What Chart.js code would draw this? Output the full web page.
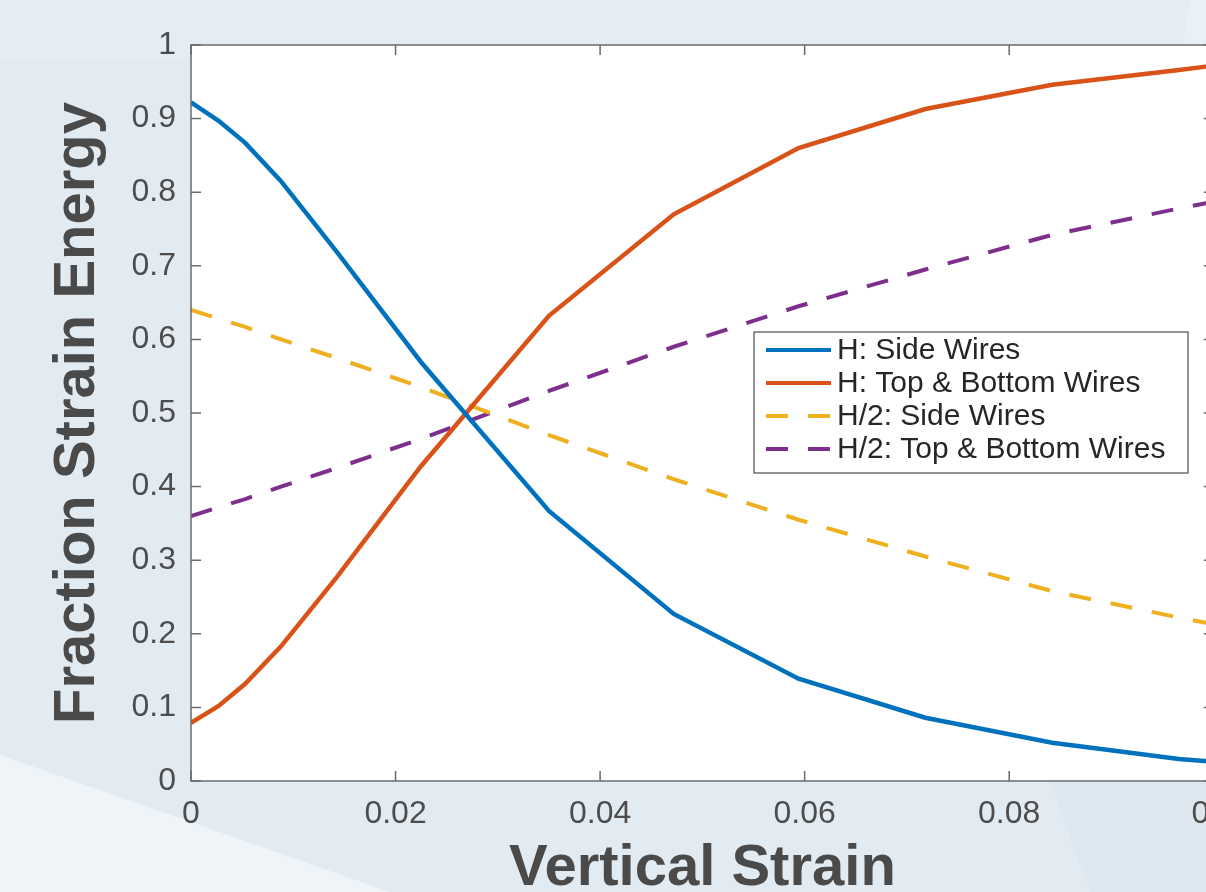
<!DOCTYPE html>
<html>
<head>
<meta charset="utf-8">
<script src="https://cdn.jsdelivr.net/npm/chart.js@4/dist/chart.umd.min.js"></script>
<style>
  html, body { margin: 0; padding: 0; width: 1206px; height: 892px; overflow: hidden; background: #e2ebf2; }
  .bg { position: absolute; left: 0; top: 0; width: 1206px; height: 892px; }
  #wrap { position: absolute; left: 0; top: 0; width: 1250px; height: 892px; }
</style>
</head>
<body>
<div class="bg" style="background:#eff4f8; clip-path: polygon(0 755px, 390px 892px, 0 892px);"></div>
<div class="bg" style="background:#e4edf4; clip-path: polygon(0 0, 1206px 0, 1206px 60px, 0 60px);"></div>
<div class="bg" style="background:#eaf1f6; clip-path: polygon(1190px 0, 1206px 0, 1206px 40px, 1180px 60px);"></div>
<div class="bg" style="background:#dde7ef; clip-path: polygon(1050px 781px, 1206px 781px, 1206px 892px, 1090px 892px);"></div>
<div id="wrap"><canvas id="chart" width="1250" height="892"></canvas></div>
<script>
// vertical strain samples
const strain = [0, 0.0027, 0.0053, 0.0088, 0.0142, 0.0225, 0.035, 0.0472, 0.0594, 0.0718, 0.0842, 0.0966, 0.1];
// fraction of strain energy
const hSide      = [0.922, 0.897, 0.867, 0.815, 0.720, 0.569, 0.367, 0.227, 0.139, 0.086, 0.052, 0.030, 0.026];
const hTopBottom = [0.079, 0.102, 0.132, 0.183, 0.276, 0.428, 0.632, 0.770, 0.860, 0.913, 0.946, 0.966, 0.972];
const h2Side      = [0.640, 0.628, 0.617, 0.600, 0.575, 0.535, 0.470, 0.410, 0.355, 0.305, 0.258, 0.222, 0.213];
const h2TopBottom = [0.360, 0.372, 0.383, 0.400, 0.425, 0.465, 0.530, 0.590, 0.645, 0.695, 0.742, 0.778, 0.787];
const seriesNames = ['H: Side Wires', 'H: Top & Bottom Wires', 'H/2: Side Wires', 'H/2: Top & Bottom Wires'];
const xTicks = [0, 0.02, 0.04, 0.06, 0.08, 0.1];
const yTicks = [0, 0.1, 0.2, 0.3, 0.4, 0.5, 0.6, 0.7, 0.8, 0.9, 1];

const colors = ['#0072BD', '#D95319', '#EDB120', '#7E2F8E'];
const dash = [22, 20];
const font = '"Liberation Sans", Arial, sans-serif';

function pts(ys) { return strain.map((x, i) => ({ x: x, y: ys[i] })); }
function fmt(v) { return String(Number(v.toFixed(4))); }

// white plot area, box with inward ticks, legend inside the axes
const matlabAxes = {
  id: 'matlabAxes',
  beforeDatasetsDraw(chart) {
    const { ctx, chartArea: a } = chart;
    ctx.save();
    ctx.fillStyle = '#ffffff';
    ctx.fillRect(a.left, a.top, a.right - a.left, a.bottom - a.top);
    ctx.restore();
  },
  afterDatasetsDraw(chart) {
    const { ctx, chartArea: a, scales } = chart;
    ctx.save();
    ctx.strokeStyle = '#6b6b6b';
    ctx.lineWidth = 1.5;
    ctx.strokeRect(a.left, a.top, a.right - a.left, a.bottom - a.top);
    ctx.beginPath();
    xTicks.forEach(v => {
      const px = scales.x.getPixelForValue(v);
      ctx.moveTo(px, a.bottom); ctx.lineTo(px, a.bottom - 10);
      ctx.moveTo(px, a.top); ctx.lineTo(px, a.top + 10);
    });
    yTicks.forEach(v => {
      const py = scales.y.getPixelForValue(v);
      ctx.moveTo(a.left, py); ctx.lineTo(a.left + 10, py);
      ctx.moveTo(a.right, py); ctx.lineTo(a.right - 10, py);
    });
    ctx.stroke();

    // legend
    const bx = 754, by = 332, bw = 434, bh = 141;
    ctx.fillStyle = '#ffffff';
    ctx.fillRect(bx, by, bw, bh);
    ctx.strokeStyle = '#4d4d4d';
    ctx.lineWidth = 1.2;
    ctx.strokeRect(bx, by, bw, bh);
    ctx.font = '30px ' + font;
    ctx.textBaseline = 'middle';
    chart.data.datasets.forEach((ds, i) => {
      const y = by + 18 + i * 33;
      ctx.strokeStyle = ds.borderColor;
      ctx.lineWidth = 4;
      ctx.setLineDash(ds.borderDash || []);
      ctx.beginPath();
      ctx.moveTo(766, y); ctx.lineTo(831, y);
      ctx.stroke();
      ctx.setLineDash([]);
      ctx.fillStyle = '#262626';
      ctx.fillText(ds.label, 837, y + 1);
    });
    ctx.restore();
  }
};

new Chart(document.getElementById('chart'), {
  type: 'line',
  data: {
    datasets: [
      { label: seriesNames[0], data: pts(hSide), borderColor: colors[0] },
      { label: seriesNames[1], data: pts(hTopBottom), borderColor: colors[1] },
      { label: seriesNames[2], data: pts(h2Side), borderColor: colors[2], borderDash: dash, borderWidth: 4 },
      { label: seriesNames[3], data: pts(h2TopBottom), borderColor: colors[3], borderDash: dash, borderWidth: 4 }
    ]
  },
  options: {
    responsive: false,
    animation: false,
    layout: { padding: { top: 45, right: 26, left: 0, bottom: 0 } },
    elements: {
      point: { radius: 0 },
      line: { borderWidth: 4.5, tension: 0, borderCapStyle: 'butt' }
    },
    plugins: { legend: { display: false }, tooltip: { enabled: false } },
    scales: {
      x: {
        type: 'linear', min: 0, max: 0.1,
        afterBuildTicks: s => { s.ticks = xTicks.map(v => ({ value: v })); },
        afterFit: s => { s.height = 111; },
        grid: { display: false, drawTicks: false },
        border: { display: false },
        ticks: { color: '#4d4d4d', padding: 14, font: { size: 32, family: font }, callback: v => fmt(v), maxRotation: 0, autoSkip: false },
        title: { display: true, text: 'Vertical Strain', color: '#4a4a4a', padding: { top: 0, bottom: -6 },
                 font: { size: 58, weight: 'bold', lineHeight: 1, family: font } }
      },
      y: {
        type: 'linear', min: 0, max: 1,
        afterBuildTicks: s => { s.ticks = yTicks.map(v => ({ value: v })); },
        afterFit: s => { s.width = 191; },
        grid: { display: false, drawTicks: false },
        border: { display: false },
        ticks: { color: '#4d4d4d', padding: 15, font: { size: 32, family: font }, callback: v => fmt(v), autoSkip: false },
        title: { display: true, text: 'Fraction Strain Energy', color: '#4a4a4a', padding: { top: 49, bottom: 0 },
                 font: { size: 58, weight: 'bold', lineHeight: 1, family: font } }
      }
    }
  },
  plugins: [matlabAxes]
});
</script>
</body>
</html>
